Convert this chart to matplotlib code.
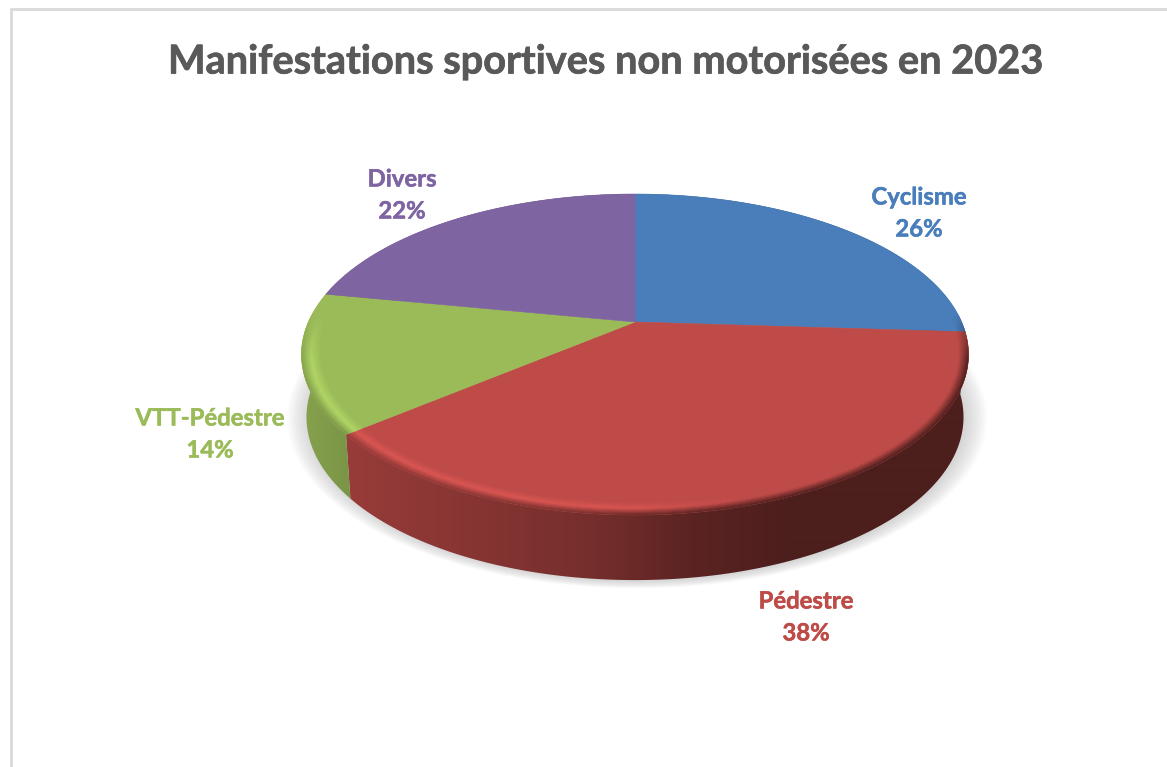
import numpy as np
import matplotlib
matplotlib.use("Agg")
import matplotlib.pyplot as plt
import matplotlib.patheffects as pe
from matplotlib.collections import PolyCollection
from matplotlib.patches import Polygon

# Data, clockwise from 12 o'clock
categories = ["Cyclisme", "Pédestre", "VTT-Pédestre", "Divers"]
shares = [26, 38, 14, 22]
colors = ["#4A7EBB", "#BE4B48", "#9BBB59", "#7F64A2"]
title = "Manifestations sportives non motorisées en 2023"

# label centres in pixels
label_pos = [(919, 212), (806, 616), (210, 433), (402, 194)]

# Pie geometry in pixels (a tilted disc seen in perspective)
CX, CY = 635, 322
RX, KY, P = 326.6, 153.9, 0.2025
DEPTH = 62


def project(theta, radius=1.0, z=0.0):
    u = radius * np.sin(theta)
    v = radius * np.cos(theta)
    w = 1 + P * v
    x = (RX * u / w) * (1 - 0.015 * z / DEPTH)
    y = -KY * v / w + z * (1 - 0.05 * v)
    return CX + x, CY + y


def mix(a, b, t):
    return np.asarray(a) * (1 - t) + np.asarray(b) * t


def side_factor(x):
    return np.interp(x, [300, 345, 590, 690, 790, 970], [0.87, 0.80, 0.62, 0.48, 0.40, 0.40])


fig = plt.figure(figsize=(11.67, 7.67), dpi=100)
ax = fig.add_axes([0, 0, 1, 1])
ax.set_xlim(0, 1167)
ax.set_ylim(767, 0)
ax.axis("off")

# chart frame (only top and left show up)
ax.plot([11, 11, 1167], [767, 9, 9], color="#d9d9d9", lw=2, solid_joinstyle="miter")

# soft shadow under the disc
t = np.linspace(0, 2 * np.pi, 360)
for grow in np.linspace(1.065, 1.0, 12):
    x, y = project(t, 1.0, DEPTH)
    ax.fill(CX + (x - CX + 2) * grow, y + 1 + (y - 420) * (grow - 1) * 0.7,
            color="#555555", alpha=0.02, lw=0, zorder=1)

fractions = np.cumsum([0] + shares) / sum(shares)
angles = fractions * 2 * np.pi
rgb = [np.array(matplotlib.colors.to_rgb(c)) for c in colors]

# side wall: horizontal gradient clipped to the wall of each slice
xs = np.arange(0, 1167)
for i in range(len(shares)):
    th = np.linspace(angles[i], angles[i + 1], 300)
    xt, yt = project(th)
    xb, yb = project(th[::-1], 1.0, DEPTH)
    wall = Polygon(np.c_[np.r_[xt, xb], np.r_[yt, yb]], closed=True, transform=ax.transData,
                   facecolor="none", edgecolor="none")
    ax.add_patch(wall)
    grad = np.outer(side_factor(xs), rgb[i])[np.newaxis, :, :]
    im = ax.imshow(grad, extent=[0, 1167, 767, 0], aspect="auto", zorder=2, interpolation="bilinear")
    im.set_clip_path(wall)
ax.set_xlim(0, 1167)
ax.set_ylim(767, 0)

# top face, one wedge per category
for i in range(len(shares)):
    th = np.linspace(angles[i], angles[i + 1], 200)
    x, y = project(th)
    ax.fill(np.r_[CX, x], np.r_[CY, y], color=colors[i], lw=0.4, zorder=3)

# rounded rim on the front edge: face colour -> highlight -> wall colour
radii = np.linspace(0.945, 1.0, 15)
quads, cols = [], []
step = np.radians(1.0)
for i in range(len(shares)):
    for a in np.arange(angles[i], angles[i + 1], step):
        b = min(a + step, angles[i + 1])
        mid = (a + b) / 2
        front = np.clip((-np.cos(mid) + 0.05) / 0.3, 0, 1)
        if front <= 0:
            continue
        xm = project(mid)[0]
        shine = np.interp(xm, [300, 400, 620, 760, 970], [0.9, 1.0, 0.9, 0.0, 0.0])
        wall = rgb[i] * side_factor(xm)
        bright = np.minimum(rgb[i] * (1 + 0.16 * shine), 1)
        for j in range(len(radii) - 1):
            s = (j + 0.5) / (len(radii) - 1)
            if s < 0.5:
                c = mix(rgb[i], bright, s / 0.5)
            else:
                c = mix(bright, wall, (s - 0.5) / 0.5)
            c = mix(rgb[i], c, front)
            xa, ya = project(a, radii[j])
            xb, yb = project(b, radii[j])
            xc, yc = project(b, radii[j + 1])
            xd, yd = project(a, radii[j + 1])
            quads.append([(xa, ya), (xb, yb), (xc, yc), (xd, yd)])
            cols.append(c)
ax.add_collection(PolyCollection(quads, facecolors=cols, edgecolors=cols, linewidths=0.3, zorder=4))

# labels
ax.text(605.5, 62, title, fontsize=28.6, fontweight="bold", family="Lato", color="#595959",
        ha="center", va="center", zorder=6,
        path_effects=[pe.withStroke(linewidth=0.5, foreground="#595959")])
for name, share, col, (lx, ly) in zip(categories, shares, colors, label_pos):
    stroke = [pe.withStroke(linewidth=0.35, foreground=col)]
    ax.text(lx, ly - 15, name, fontsize=17.2, fontweight="bold", family="Lato", color=col,
            ha="center", va="center", zorder=6, path_effects=stroke)
    ax.text(lx, ly + 17, f"{share}%", fontsize=17.2, fontweight="bold", family="Lato", color=col,
            ha="center", va="center", zorder=6, path_effects=stroke)

fig.savefig("out.png", dpi=100)
